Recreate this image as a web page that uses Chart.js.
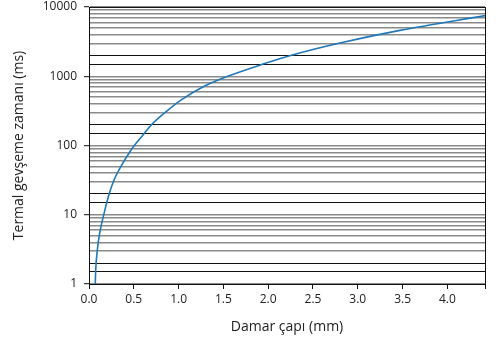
<!DOCTYPE html>
<html>
<head>
<meta charset="utf-8">
<script src="https://cdn.jsdelivr.net/npm/chart.js@4/dist/chart.umd.min.js"></script>
<style>
  html, body { margin: 0; padding: 0; background: #fff; }
  #wrap { width: 504px; height: 341px; }
</style>
</head>
<body>
<div id="wrap"><canvas id="myChart"></canvas></div>
<script>
// values
const diameter = [0.07, 0.075, 0.093, 0.119, 0.142, 0.186, 0.22, 0.276, 0.349, 0.472, 0.603, 0.695, 0.882, 1.03, 1.28, 1.54, 1.95, 2.24, 2.8, 3.47, 4.42];
const relaxTime = [1.0, 1.6, 3.1, 5.4, 7.5, 13, 19, 31, 48, 87, 142, 198, 325, 456, 710, 990, 1510, 1980, 3020, 4600, 7500];

const xTicks = [0, 0.5, 1.0, 1.5, 2.0, 2.5, 3.0, 3.5, 4.0, 4.42];
const xLabels = ['0.0', '0.5', '1.0', '1.5', '2.0', '2.5', '3.0', '3.5', '4.0', ''];
const decades = [1, 10, 100, 1000, 10000];
const mantissas = [1, 1.5, 2, 3, 4, 5, 6, 7, 8, 9];

// grid values: 1, 1.5, 2, 3 ... 9 in each decade
const yGrid = [];
decades.forEach(function(d) {
  mantissas.forEach(function(m) {
    if (d * m <= 10000) yGrid.push(d * m);
  });
});

function isDecade(v) {
  return decades.indexOf(v) !== -1;
}
function isDark(v) {
  const m = Math.round(v / Math.pow(10, Math.floor(Math.log10(v) + 1e-9)) * 10) / 10;
  return m === 1.5 || m === 2;
}

const points = diameter.map(function(d, i) { return { x: d, y: relaxTime[i] }; });

// frame round the plot
const frame = {
  id: 'frame',
  afterDraw: function(chart) {
    const a = chart.chartArea;
    const c = chart.ctx;
    c.save();
    c.strokeStyle = '#111';
    c.lineWidth = 1;
    c.strokeRect(Math.round(a.left) + 0.5, Math.round(a.top) + 0.5, Math.round(a.right - a.left), Math.round(a.bottom - a.top));
    c.restore();
  }
};

const ctx = document.getElementById('myChart').getContext('2d');

// eslint-disable-next-line no-unused-vars
const chart = new Chart(ctx, {
  type: 'line',
  data: {
    datasets: [{
      data: points,
      borderColor: '#1f78b8',
      borderWidth: 1.6,
      pointRadius: 0,
      cubicInterpolationMode: 'monotone',
      fill: false,
    }]
  },
  options: {
    responsive: true,
    maintainAspectRatio: false,
    animation: false,
    layout: { padding: { top: 7, right: 19, left: 0, bottom: 0 } },
    plugins: {
      legend: { display: false },
      tooltip: { enabled: false },
    },
    scales: {
      x: {
        type: 'linear',
        min: 0,
        max: 4.42,
        afterBuildTicks: function(scale) {
          scale.ticks = xTicks.map(function(v) { return { value: v }; });
        },
        afterFit: function(scale) { scale.height = 57; },
        ticks: {
          padding: 3,
          color: '#222',
          font: { family: 'Open Sans', size: 12 },
          maxRotation: 0,
          autoSkip: false,
          callback: function(value, index) { return xLabels[index]; },
        },
        grid: {
          drawOnChartArea: false,
          tickLength: 5,
          tickColor: '#111',
        },
        border: { color: '#111', width: 1 },
        title: {
          display: true,
          text: 'Damar çapı (mm)',
          color: '#222',
          font: { family: 'Open Sans', size: 14 },
          padding: { top: 0, bottom: 6 },
        },
      },
      y: {
        type: 'logarithmic',
        min: 1,
        max: 10000,
        afterBuildTicks: function(scale) {
          scale.ticks = yGrid.map(function(v) { return { value: v }; });
        },
        afterFit: function(scale) {
          scale.width = 89;
          scale.paddingTop = 0;
          scale.paddingBottom = 0;
        },
        ticks: {
          padding: 7,
          color: '#222',
          font: { family: 'Open Sans', size: 12 },
          autoSkip: false,
          callback: function(value) { return isDecade(value) ? String(value) : ''; },
        },
        grid: {
          tickLength: 5,
          color: function(c) { return isDark(c.tick.value) ? '#111' : '#8a8a8a'; },
          lineWidth: function(c) { return isDark(c.tick.value) ? 1 : 1.4; },
          tickColor: function(c) { return isDecade(c.tick.value) ? '#111' : 'rgba(0,0,0,0)'; },
          tickWidth: 1,
        },
        border: { color: '#111', width: 1 },
        title: {
          display: true,
          text: 'Termal gevşeme zamanı (ms)',
          color: '#222',
          font: { family: 'Open Sans', size: 14 },
          padding: { top: 11, bottom: 0 },
        },
      },
    },
  },
  plugins: [frame],
});
</script>
</body>
</html>
